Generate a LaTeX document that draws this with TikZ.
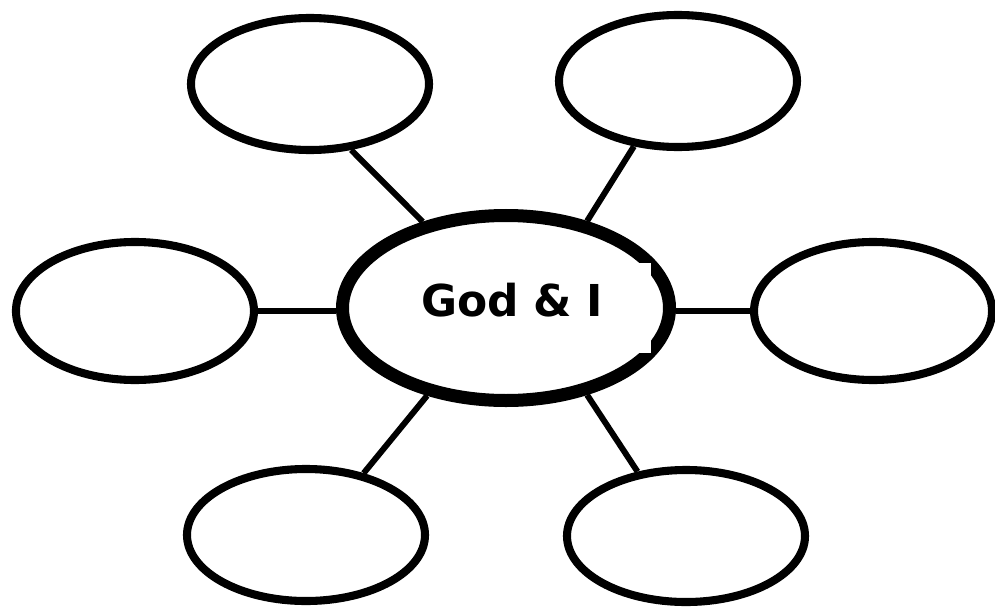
\documentclass[tikz,border=0pt]{standalone}
\usepackage{fontspec}
\setsansfont{DejaVu Sans}
\usepackage{tikz}
\usetikzlibrary{shapes.geometric, positioning}
\tikzset{
  bub/.style={draw, ellipse, line width=4.6pt, inner sep=0pt,
              minimum width=4.76cm, minimum height=2.64cm},
  lnk/.style={line width=3.4pt}
}

\begin{document}
\begin{tikzpicture}[
  hub/.style={draw,ellipse,line width=7.4pt,inner sep=0pt,
              minimum width=6.54cm,minimum height=3.7cm},
  ttl/.style={fill=white,inner xsep=0.4cm,inner ysep=0pt,text width=4.2cm,
              align=left,minimum height=1.8cm,text height=0.5cm,text depth=0.18cm,
              font=\sffamily\bfseries\fontsize{25}{30}\selectfont}
]
  \useasboundingbox (-10.12,-5.96) rectangle (9.78,6.16);

  \node[hub]                     (hub) {};
  \node[ttl] at (0.4,0)          (ttl) {God \& I};
  \node[bub,minimum height=2.76cm,left=1.56cm of hub,yshift=-0.06cm]  (lt) {};
  \node[bub,minimum height=2.76cm,right=1.48cm of hub,yshift=-0.06cm] (rt) {};
  \node[bub] at (-3.92,4.48)     (tl)  {};
  \node[bub] at (3.44,4.54)      (tr)  {};
  \node[bub] at (-4.0,-4.54)     (bl)  {};
  \node[bub] at (3.6,-4.56)      (br)  {};

  % spokes
  \draw[lnk](tl.-58)--(hub.134); \draw[lnk](tr.-124)--(hub.47);
  \draw[lnk](lt.east)--(lt.east-|hub.west); \draw[lnk](rt.west)--(rt.west-|hub.east);
  \draw[lnk](bl.47)--(hub.-132); \draw[lnk](br.127)--(hub.-47);
\end{tikzpicture}
\end{document}
